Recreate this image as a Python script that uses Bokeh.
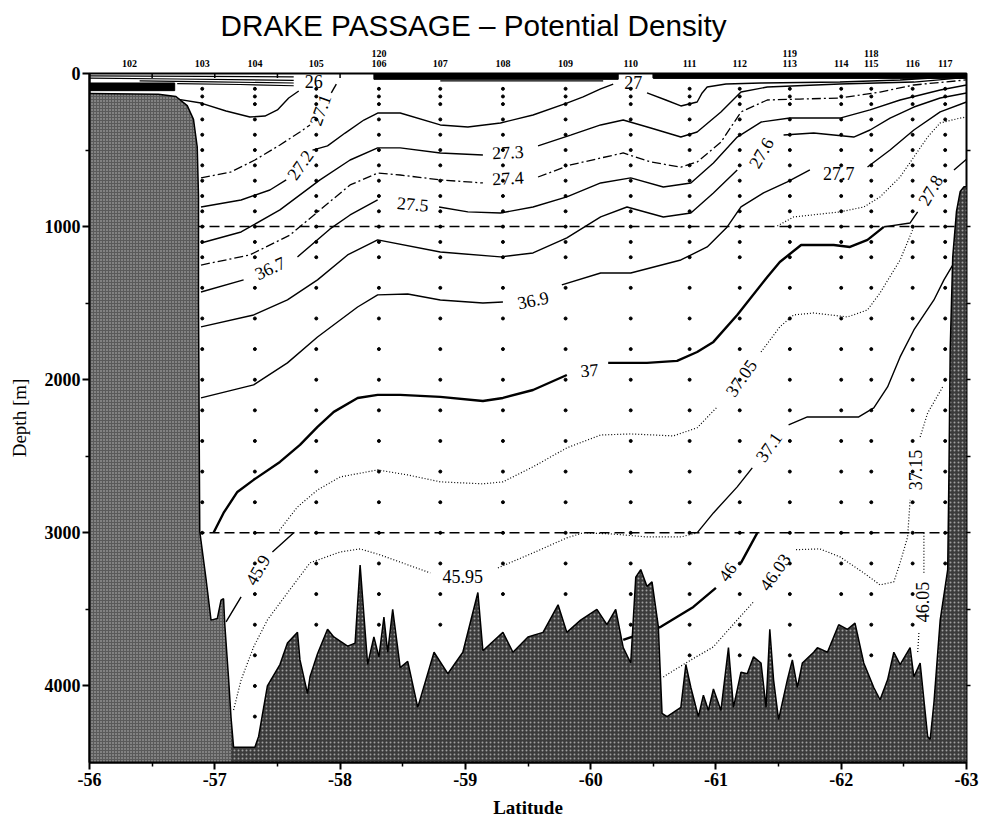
import numpy as np
from bokeh.plotting import figure
from bokeh.models import Range1d, LinearAxis, FixedTicker
from bokeh.embed import file_html
from bokeh.resources import INLINE
from bokeh.core.properties import value

nan = float("nan")

# ---------------- axes ----------------
lat_ticks = [-56, -57, -58, -59, -60, -61, -62, -63]
lat_minor = [-56.5, -57.5, -58.5, -59.5, -60.5, -61.5, -62.5]
depth_ticks = [0, 1000, 2000, 3000, 4000]
depth_minor = [500, 1500, 2500, 3500]
right_ticks = [500, 1000, 1500, 2000, 2500, 3000, 3500, 4000]
boundary_depths = [1000, 3000]

# ---------------- CTD stations ----------------
station_ids = ["102", "103", "104", "105", "106", "107", "108", "109",
               "110", "111", "112", "113", "114", "115", "116", "117"]
station_lat = [-56.32, -56.90, -57.32, -57.81, -58.31, -58.80, -59.30, -59.80,
               -60.32, -60.79, -61.19, -61.59, -62.00, -62.24, -62.57, -62.83]
repeat_ids = ["120", "119", "118"]
repeat_lat = [-58.31, -61.59, -62.24]
bottle_depths = [100, 150, 200, 300, 400, 500, 600, 700, 800, 900, 1000, 1100,
                 1200, 1400, 1600, 1800, 2000, 2200, 2400, 2600, 2800, 3000,
                 3200, 3400, 3600, 3800, 4000, 4200]

# ---------------- bathymetry ----------------
bathy_lat = [-56.00, -56.55, -56.69, -56.78, -56.83, -56.86, -56.87, -56.87, -56.88,
             -56.93, -56.97, -57.02, -57.05, -57.07, -57.08, -57.11, -57.13, -57.15,
             -57.32, -57.35, -57.42, -57.52, -57.58, -57.66, -57.68, -57.74, -57.76,
             -57.82, -57.90, -57.95, -58.06, -58.12, -58.16, -58.22, -58.27, -58.31,
             -58.35, -58.38, -58.42, -58.48, -58.54, -58.62, -58.75, -58.86, -58.98,
             -59.10, -59.14, -59.22, -59.30, -59.38, -59.50, -59.62, -59.74, -59.81,
             -59.92, -60.05, -60.13, -60.20, -60.26, -60.32, -60.36, -60.40, -60.45,
             -60.49, -60.54, -60.57, -60.61, -60.72, -60.76, -60.80, -60.86, -60.90,
             -60.94, -60.98, -61.04, -61.10, -61.14, -61.20, -61.25, -61.30, -61.36,
             -61.40, -61.43, -61.46, -61.50, -61.57, -61.61, -61.65, -61.69, -61.78,
             -61.81, -61.89, -61.98, -62.05, -62.11, -62.18, -62.26, -62.31, -62.37,
             -62.42, -62.47, -62.55, -62.58, -62.63, -62.69, -62.71, -62.74, -62.79,
             -62.85, -62.86, -62.87, -62.89, -62.92, -62.95, -62.98, -63.00]
bathy_depth = [130, 135, 150, 210, 300, 480, 800, 1500, 2990,
               3300, 3570, 3560, 3440, 3430, 3600, 3950, 4210, 4400,
               4400, 4330, 4000, 3860, 3720, 3650, 3830, 4050, 3940,
               3790, 3630, 3680, 3740, 3720, 3210, 3860, 3680, 3810,
               3550, 3780, 3500, 3880, 3840, 4140, 3780, 3920, 3780,
               3390, 3770, 3710, 3650, 3780, 3680, 3650, 3470, 3650,
               3570, 3500, 3600, 3500, 3750, 3850, 3290, 3240, 3350,
               3320, 3610, 4180, 4200, 4140, 3860, 4010, 4200, 4060,
               4160, 4020, 4160, 3750, 4140, 3910, 3920, 3810, 3850,
               4140, 3630, 3960, 4220, 3960, 3830, 4010, 3850, 3780,
               3750, 3780, 3600, 3630, 3590, 3850, 4010, 4090, 3960,
               3780, 3860, 3750, 3940, 3850, 4330, 4350, 4110, 3570,
               3240, 2600, 1800, 1200, 900, 770, 740, 740]
slope_end_lat = -57.13   # continental slope block drawn in a lighter grey

# ---------------- isopycnals (NaN = gap for a label) ----------------
c26_lat = [-56.70, -56.89, -57.09, -57.28, -57.40, -57.50, -57.59, -57.67]
c26_depth = [167, 193, 245, 284, 278, 238, 160, 114]

c271a_lat = [-56.89, -57.13, -57.32, -57.52, -57.68, -57.76]
c271a_depth = [682, 643, 565, 467, 382, 336]
c271b_lat = [-57.93, -57.97]
c271b_depth = [127, 69]

c272_lat = [-56.89, -57.21, -57.44, -57.57, nan, -57.78, -57.90, -58.04, -58.19, -58.30,
            -58.48, -58.80, -59.02, -59.28, -59.54, -59.81, -59.94, -60.08, -60.18, nan,
            -60.45, -60.60, -60.72, -60.85, -60.89, -60.93, -61.08, -61.36, -61.99, -62.47, -63.00]
c272_depth = [872, 826, 761, 695, nan, 500, 473, 389, 304, 258,
              258, 336, 349, 323, 271, 193, 153, 101, 69, nan,
              127, 173, 212, 186, 127, 88, 69, 62, 56, 42, 15]

c273_lat = [-56.89, -57.21, -57.52, -57.84, -58.08, -58.30, -58.48, -58.80, -59.14, nan,
            -59.58, -59.84, -60.08, -60.26, -60.48, -60.72, -60.85, -61.04, -61.20, -61.41,
            -61.99, -62.58, -63.00]
c273_depth = [1107, 1035, 891, 695, 565, 486, 486, 519, 532, nan,
              473, 402, 336, 304, 356, 415, 382, 251, 121, 88,
              69, 56, 25]

c274_lat = [-56.89, -57.28, -57.60, -57.84, -58.08, -58.30, -58.48, -58.80, -59.14, nan,
            -59.58, -59.84, -60.08, -60.26, -60.48, -60.72, -60.85, -61.04, -61.20, -61.41,
            -61.67, -61.99, -62.31, -62.58, -63.00]
c274_depth = [1251, 1185, 1055, 891, 728, 650, 663, 695, 715, nan,
              676, 597, 552, 519, 578, 611, 578, 449, 251, 173,
              167, 160, 121, 75, 42]

c275_lat = [-56.89, -57.23, nan, -57.66, -57.92, -58.08, -58.30, nan, -58.79, -59.02,
            -59.28, -59.54, -59.81, -60.08, -60.32, -60.58, -60.80, -60.98, -61.17, -61.36,
            -61.59, -61.99, -62.23, -62.47, -62.79, -63.00]
c275_depth = [1427, 1348, nan, 1198, 1015, 924, 826, nan, 872, 904,
              911, 872, 806, 715, 682, 741, 715, 584, 415, 317,
              291, 291, 238, 173, 108, 75]

c276_lat = [-56.89, -57.31, -57.58, -57.82, -58.06, -58.30, -58.80, -59.28, -59.54, -59.81,
            -60.08, -60.29, -60.58, -60.80, -60.98, -61.17, nan, -61.54, -61.78, -62.10,
            -62.23, -62.39, -62.58, -62.79, -63.00]
c276_depth = [1655, 1577, 1479, 1348, 1185, 1087, 1166, 1198, 1172, 1074,
              937, 872, 937, 911, 780, 630, nan, 402, 389, 415,
              369, 291, 219, 160, 127]

c277_lat = [-56.89, -57.31, -57.58, -57.82, -58.14, -58.30, -58.54, -58.80, -59.14, -59.30, nan,
            -59.77, -60.08, -60.32, -60.72, -60.93, -61.09, -61.20, -61.38, -61.57, -61.75, nan,
            -62.21, -62.39, -62.58, -62.79, -63.00]
c277_depth = [2119, 2034, 1890, 1721, 1525, 1446, 1440, 1479, 1499, 1492, nan,
              1381, 1303, 1303, 1218, 1133, 1002, 871, 780, 708, 630, nan,
              611, 500, 369, 251, 186]

c278_lat = [-62.34, -62.55, -62.61, nan, -62.90, -63.00]
c278_depth = [1002, 976, 904, nan, 630, 560]

c278d_lat = [-61.49, -61.62, -61.99, -62.18, -62.31, -62.47, -62.58, -62.69, -62.79, -62.95, -63.00]
c278d_depth = [996, 937, 904, 872, 806, 676, 545, 415, 323, 291, 284]

c37_lat = [-56.99, -57.07, -57.18, -57.31, -57.52, -57.68, -57.82, -57.95, -58.14, -58.30,
           -58.48, -58.80, -59.14, -59.30, -59.54, -59.81, nan, -60.14, -60.45, -60.69,
           -60.85, -60.98, -61.17, -61.41, -61.51, -61.68, -61.94, -62.07, -62.21, -62.34]
c37_depth = [3000, 2870, 2733, 2654, 2537, 2426, 2308, 2210, 2119, 2099,
             2099, 2112, 2139, 2119, 2067, 1969, nan, 1890, 1890, 1877,
             1819, 1753, 1577, 1329, 1231, 1120, 1120, 1133, 1087, 1002]

c3705_lat = [-57.50, -57.66, -57.82, -58.00, -58.30, -58.54, -58.80, -59.14, -59.30, -59.54,
             -59.81, -60.08, -60.32, -60.66, -60.85, -61.01, nan, -61.36, -61.51, -61.62,
             -61.78, -62.05, -62.21, -62.31, -62.47, -62.58]
c3705_depth = [3000, 2831, 2720, 2635, 2589, 2622, 2667, 2680, 2667, 2569,
               2445, 2361, 2354, 2367, 2314, 2178, nan, 1819, 1655, 1577,
               1564, 1590, 1544, 1433, 1218, 1002]

c371_lat = [-60.85, -60.98, -61.17, -61.29, nan, -61.58, -61.73, -61.99, -62.14, -62.26,
            -62.37, -62.47, -62.58, -62.74, -62.82, -62.89]
c371_depth = [3000, 2870, 2700, 2576, nan, 2295, 2243, 2243, 2243, 2184,
              2047, 1851, 1675, 1479, 1348, 1251]

c4590_lat = [-57.63, -57.46, nan, -57.21, -57.09]
c4590_depth = [3000, 3125, nan, 3418, 3581]

c4595_lat = [-57.15, -57.21, -57.31, -57.42, -57.58, -57.76, -58.00, -58.16, -58.32, -58.72, nan,
             -59.26, -59.54, -59.81, -59.94, -60.16, -60.45, -60.72, -60.85]
c4595_depth = [4157, 3961, 3745, 3569, 3392, 3196, 3125, 3105, 3144, 3262, nan,
               3229, 3131, 3033, 3000, 3007, 3027, 3027, 3000]

c4600_lat = [-61.33, -61.20, nan, -61.00, -60.82, -60.56, -60.26]
c4600_depth = [3000, 3196, nan, 3360, 3484, 3614, 3699]

c4603_lat = [-60.58, -60.80, -60.98, -61.17, -61.30, nan, -61.64, -61.83, -61.99, -62.18,
             -62.31, -62.42, -62.47, -62.53, -62.55, nan, -62.63, -62.69, -62.81]
c4603_depth = [3941, 3830, 3745, 3569, 3451, nan, 3110, 3105, 3157, 3262,
               3340, 3320, 3196, 3027, 2785, nan, 2374, 2217, 2047]

c4605_lat = [-62.66, -62.66, nan, -62.62, -62.61]
c4605_depth = [3000, 3262, nan, 3654, 3784]

# contour labels
label_text = ["26", "27.1", "27.2", "27", "27.3", "27.4", "36.7", "27.5", "27.6",
              "36.9", "27.7", "27.8", "37", "37.05", "37.1", "37.15", "45.9",
              "45.95", "46", "46.03", "46.05"]
label_lat = [-57.79, -57.84, -57.68, -60.34, -59.34, -59.34, -57.44, -58.58, -61.36,
             -59.54, -61.98, -62.71, -59.99, -61.20, -61.42, -62.59, -57.34,
             -58.98, -61.09, -61.47, -62.65]
label_depth = [49, 238, 597, 56, 513, 682, 1270, 852, 519,
               1479, 650, 761, 1936, 1988, 2439, 2589, 3242,
               3288, 3255, 3255, 3451]
label_angle = [0, 70, 55, 0, 3, 3, 25, -5, 60,
               12, 0, 60, 5, 55, 55, 90, 60,
               0, 55, 55, 90]

# near-surface layer
surf_band_lat = [[-58.27, -60.22, -60.22, -58.27], [-60.50, -63.00, -63.00, -60.50],
                 [-56.00, -56.68, -56.68, -56.00]]
surf_band_depth = [[0, 0, 38, 38], [0, 0, 32, 32], [62, 62, 112, 112]]
surf_line_lat = [[-56.00, -57.63], [-56.00, -56.70, -57.63], [-56.40, -57.00, -57.63],
                 [-56.70, -57.20, -57.63], [-58.80, -60.10]]
surf_line_depth = [[15, 22], [30, 36, 45], [48, 55, 62], [66, 72, 80], [48, 48]]

# ---------------- figure ----------------
SERIF = "Liberation Serif"

p = figure(width=982, height=823, x_range=Range1d(-56, -63), y_range=Range1d(4500, 0),
           output_backend="svg", toolbar_location=None,
           min_border_left=89, min_border_right=16, min_border_top=73, min_border_bottom=61)
p.background_fill_color = "white"
p.border_fill_color = "white"
p.outline_line_color = "black"
p.outline_line_width = 2
p.xgrid.visible = False
p.ygrid.visible = False

p.title.text = "DRAKE PASSAGE \u2013 Potential Density"
p.title.text_font = "Liberation Sans"
p.title.text_font_size = "29.7px"
p.title.text_font_style = "normal"
p.title.text_color = "black"
p.title.align = "left"
p.title.offset = 131
p.title.standoff = 10

# bottom axis
xa = p.xaxis[0]
xa.ticker = FixedTicker(ticks=lat_ticks, minor_ticks=lat_minor)
xa.major_label_overrides = {t: str(t) for t in lat_ticks}
xa.axis_label = "Latitude"
for ax in (xa, p.yaxis[0]):
    ax.axis_label_text_font = SERIF
    ax.axis_label_text_font_style = "bold"
    ax.axis_label_text_font_size = "19px"
    ax.axis_label_text_color = "black"
    ax.major_label_text_font = SERIF
    ax.major_label_text_font_style = "bold"
    ax.major_label_text_font_size = "18px"
    ax.major_label_text_color = "black"
    ax.axis_line_width = 2
    ax.major_tick_line_width = 2
    ax.minor_tick_line_width = 1.5
    ax.major_tick_out = 7
    ax.major_tick_in = 0
    ax.minor_tick_out = 4
    ax.minor_tick_in = 0
xa.major_label_standoff = 3
xa.axis_label_standoff = 8

ya = p.yaxis[0]
ya.ticker = FixedTicker(ticks=depth_ticks, minor_ticks=depth_minor)
ya.major_label_overrides = {t: str(t) for t in depth_ticks}
ya.axis_label = "Depth [m]"
ya.axis_label_text_font_style = "normal"
ya.major_label_standoff = 2
ya.axis_label_standoff = 12

# right-hand tick marks (no labels)
ra = LinearAxis(ticker=FixedTicker(ticks=right_ticks),
                major_label_overrides={t: "" for t in right_ticks},
                major_tick_out=4, major_tick_in=0, axis_line_color=None,
                major_tick_line_width=1.5, major_label_standoff=0)
p.add_layout(ra, "right")

# station numbers along the top
def station_axis(ticks, labels):
    return LinearAxis(ticker=FixedTicker(ticks=ticks),
                      major_label_overrides=dict(zip(ticks, labels)),
                      major_tick_out=0, major_tick_in=0, axis_line_color=None,
                      major_label_standoff=7,
                      major_label_text_font=SERIF, major_label_text_font_style="bold",
                      major_label_text_font_size="10px", major_label_text_color="black")

p.add_layout(station_axis(station_lat, station_ids), "above")
top_repeat = station_axis(repeat_lat, repeat_ids)
top_repeat.major_label_standoff = 0
p.add_layout(top_repeat, "above")

# layer boundaries (1000 m and 3000 m)
for d in boundary_depths:
    p.line([-56, -63], [d, d], line_color="black", line_width=1.5, line_dash="10 5")

# isopycnals
solid = dict(line_color="black", line_width=1.4)
thick = dict(line_color="black", line_width=2.4)
dashdot = dict(line_color="black", line_width=1.3, line_dash="9 3 2 3")
dotted = dict(line_color="black", line_width=1.2, line_dash="1 2")

contours = [
    (c26_lat, c26_depth, solid), (c271a_lat, c271a_depth, dashdot),
    (c271b_lat, c271b_depth, solid),
    (c272_lat, c272_depth, solid), (c273_lat, c273_depth, solid),
    (c274_lat, c274_depth, dashdot), (c275_lat, c275_depth, solid),
    (c276_lat, c276_depth, solid), (c277_lat, c277_depth, solid),
    (c278_lat, c278_depth, solid), (c278d_lat, c278d_depth, dotted),
    (c37_lat, c37_depth, thick), (c3705_lat, c3705_depth, dotted),
    (c371_lat, c371_depth, solid), (c4590_lat, c4590_depth, solid),
    (c4595_lat, c4595_depth, dotted), (c4600_lat, c4600_depth, thick),
    (c4603_lat, c4603_depth, dotted), (c4605_lat, c4605_depth, dotted),
]
for xs, ys, style in contours:
    p.line(xs, ys, **style)

# sea floor: dark stippled body, lighter slope block, black outline on top
floor_x = [-56.0] + bathy_lat + [-63.0]
floor_y = [4500] + bathy_depth + [4500]
p.patch(floor_x, floor_y, fill_color="#3b3b3b", line_color=None,
        hatch_pattern="dot", hatch_color="#a0a0a0", hatch_scale=4, hatch_weight=1)

k = sum(1 for la in bathy_lat if la >= slope_end_lat)
slope_x = [-56.0] + bathy_lat[:k] + [bathy_lat[k - 1]]
slope_y = [4500] + bathy_depth[:k] + [4500]
p.patch(slope_x, slope_y, fill_color="#5a5a5a", line_color=None,
        hatch_pattern="dot", hatch_color="#bdbdbd", hatch_scale=3, hatch_weight=1)
p.line(bathy_lat, bathy_depth, line_color="black", line_width=1.5)

# near-surface layer
p.patches(surf_band_lat, surf_band_depth, fill_color="black", line_color="black")
p.multi_line(surf_line_lat, surf_line_depth, line_color="black", line_width=1.2)

# inward half-degree ticks on the top edge
top_tick_lat = lat_minor + lat_ticks[1:-1]
p.segment(x0=top_tick_lat, y0=[0] * len(top_tick_lat), x1=top_tick_lat,
          y1=[30] * len(top_tick_lat), line_color="black", line_width=1.5)

# bottle samples
bottom_at = np.interp(-np.array(station_lat), -np.array(bathy_lat), np.array(bathy_depth))
dot_x, dot_y = [], []
for lat, bot in zip(station_lat, bottom_at):
    for d in bottle_depths:
        if d < bot - 80:
            dot_x.append(lat)
            dot_y.append(d)
p.scatter(dot_x, dot_y, size=3, color="black")

# contour labels
p.text(x=label_lat, y=label_depth, text=label_text, angle=np.radians(label_angle),
       text_align="center", text_baseline="middle", text_color="black",
       text_font=value(SERIF), text_font_size="18px")

open("out.html", "w").write(file_html(p, INLINE))
